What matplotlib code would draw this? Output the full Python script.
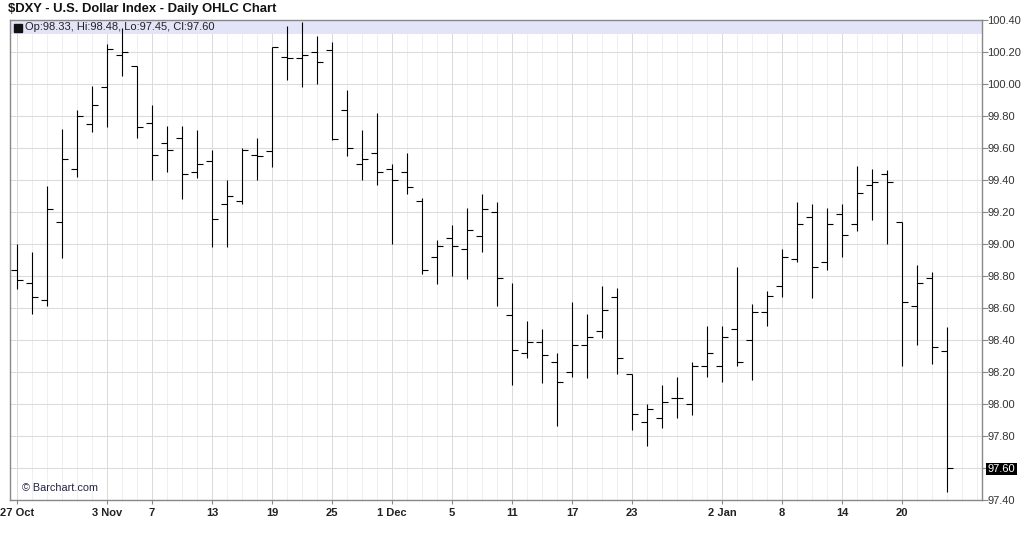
import matplotlib
matplotlib.use("Agg")
import matplotlib.pyplot as plt
import numpy as np

plt.rcParams['font.family'] = ['Liberation Sans', 'DejaVu Sans']

opens = [98.84, 98.755, 98.65, 99.135, 99.47, 99.75, 99.98, 100.18, 100.11, 99.755,
         99.63, 99.66, 99.45, 99.52, 99.25, 99.27, 99.555, 99.58, 100.17, 100.16,
         100.20, 100.21, 99.84, 99.50, 99.57, 99.47, 99.45, 99.27, 98.92, 99.04,
         98.97, 99.05, 99.20, 98.555, 98.32, 98.39, 98.26, 98.20, 98.37, 98.455,
         98.67, 98.19, 97.885, 97.91, 98.04, 98.00, 98.24, 98.235, 98.47, 98.40,
         98.575, 98.735, 98.905, 99.17, 98.89, 99.19, 99.125, 99.37, 99.435, 99.14,
         98.61, 98.79, 98.33]
highs = [99.00, 98.95, 99.36, 99.72, 99.84, 99.99, 100.25, 100.35, 100.11, 99.87,
         99.74, 99.74, 99.71, 99.585, 99.40, 99.60, 99.66, 100.23, 100.36, 100.39,
         100.30, 100.26, 99.96, 99.71, 99.82, 99.50, 99.57, 99.285, 99.025, 99.12,
         99.225, 99.31, 99.26, 98.755, 98.52, 98.47, 98.32, 98.64, 98.56, 98.74,
         98.725, 98.19, 98.00, 98.12, 98.17, 98.26, 98.49, 98.49, 98.855, 98.625,
         98.705, 98.97, 99.26, 99.25, 99.225, 99.25, 99.49, 99.47, 99.465, 99.14,
         98.87, 98.825, 98.48]
lows = [98.72, 98.565, 98.61, 98.91, 99.42, 99.70, 99.73, 100.05, 99.66, 99.40,
        99.45, 99.28, 99.41, 98.98, 98.98, 99.25, 99.40, 99.48, 100.025, 99.98,
        100.00, 99.65, 99.55, 99.40, 99.37, 99.00, 99.31, 98.81, 98.75, 98.80,
        98.78, 98.95, 98.61, 98.12, 98.29, 98.13, 97.86, 98.17, 98.16, 98.41,
        98.19, 97.84, 97.74, 97.85, 97.91, 97.93, 98.17, 98.14, 98.24, 98.15,
        98.49, 98.67, 98.89, 98.665, 98.84, 98.92, 99.08, 99.15, 99.00, 98.24,
        98.37, 98.25, 97.45]
closes = [98.775, 98.67, 99.22, 99.53, 99.80, 99.87, 100.22, 100.20, 99.73, 99.555,
          99.59, 99.435, 99.50, 99.155, 99.30, 99.59, 99.55, 100.23, 100.16, 100.18,
          100.135, 99.655, 99.60, 99.53, 99.45, 99.40, 99.355, 98.84, 98.99, 98.99,
          99.09, 99.22, 98.79, 98.34, 98.39, 98.305, 98.14, 98.37, 98.42, 98.59,
          98.29, 97.94, 97.97, 98.01, 98.035, 98.235, 98.32, 98.42, 98.26, 98.575,
          98.675, 98.92, 99.125, 98.855, 99.125, 99.055, 99.32, 99.385, 99.385, 98.635,
          98.755, 98.355, 97.60]

tick_pos = [0, 6, 9, 13, 17, 21, 25, 29, 33, 37, 41, 47, 51, 55, 59]
tick_labels = ['27 Oct', '3 Nov', '7', '13', '19', '25', '1 Dec', '5', '11', '17',
               '23', '2 Jan', '8', '14', '20']
y_ticks = [97.40, 97.60, 97.80, 98.00, 98.20, 98.40, 98.60, 98.80, 99.00, 99.20,
           99.40, 99.60, 99.80, 100.00, 100.20, 100.40]

title = "$DXY - U.S. Dollar Index - Daily OHLC Chart"
legend_text = "Op:98.33, Hi:98.48, Lo:97.45, Cl:97.60"
last_close = 97.60

fig = plt.figure(figsize=(10.24, 5.42), dpi=100)
ax = fig.add_axes([10/1024, 42/542, 972/1024, 480/542])

n = len(opens)
x = np.arange(n)
ax.set_xlim(-0.47, 64.33)
ax.set_ylim(97.40, 100.40)

# grid
for xv in range(0, 65):
    ax.axvline(xv, color='#efefef', lw=0.72, zorder=0)
for xv in tick_pos:
    ax.axvline(xv, color='#dadada', lw=0.72, zorder=0.1)
for yv in y_ticks:
    ax.axhline(yv, color='#dcdcdc', lw=0.8, zorder=0.1)

# header band
ax.axhspan(100.3125, 100.40, color='#e4e4f8', zorder=0.5, lw=0)
ax.plot([7.5/972], [1 - 7.5/480], marker='s', markersize=5.2, color='#111111',
        transform=ax.transAxes, zorder=1, clip_on=False)
ax.text(15/972, 1 - 7.5/480, legend_text, transform=ax.transAxes,
        fontsize=8, va='center', ha='left', color='#222222', zorder=1)

# OHLC bars
tw = 0.4
ax.vlines(x, lows, highs, color='black', lw=0.8, zorder=3)
ax.hlines(opens, x - tw, x, color='black', lw=0.8, zorder=3)
ax.hlines(closes, x, x + tw, color='black', lw=0.8, zorder=3)

# axes styling
for s in ax.spines.values():
    s.set_color('#888888')
    s.set_linewidth(1.0)
ax.set_xticks(tick_pos)
ax.set_xticklabels(tick_labels, fontweight='bold', fontsize=8, color='#222222')
ax.tick_params(axis='x', length=3, color='#888888', pad=3)
ax.yaxis.tick_right()
ax.set_yticks(y_ticks)
ax.set_yticklabels([f"{v:.2f}" for v in y_ticks], fontsize=8, color='#333333')
ax.tick_params(axis='y', length=4, color='#888888', pad=0)
for lbl, v in zip(ax.get_yticklabels(), y_ticks):
    if abs(v - last_close) < 1e-9:
        lbl.set_color('white')
        lbl.set_bbox(dict(facecolor='black', edgecolor='none', pad=1.0))

ax.text(12/972, 12/480, "\u00A9 Barchart.com", transform=ax.transAxes,
        fontsize=7.8, color='#222244', va='center', ha='left')

fig.text(8/1024, 1 - 9/542, title, fontsize=9.4, fontweight='bold',
         color='#111111', va='center', ha='left')

fig.savefig("out.png", dpi=100, facecolor='white')
